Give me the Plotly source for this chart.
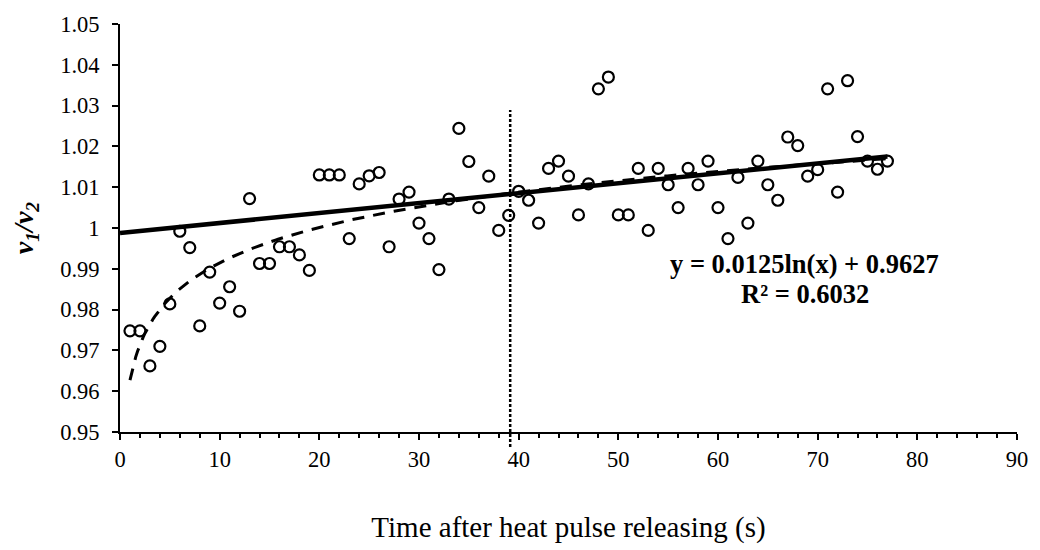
import numpy as np
import plotly.graph_objects as go

# ---------------- data ----------------
TIME_S = list(range(1, 78))
V_RATIO = [
    0.9748, 0.9748, 0.9662, 0.9710, 0.9814, 0.9992, 0.9952, 0.9760, 0.9892, 0.9816,  # 1-10
    0.9856, 0.9796, 1.0072, 0.9913, 0.9913, 0.9954, 0.9954, 0.9934, 0.9896, 1.0130,  # 11-20
    1.0130, 1.0130, 0.9974, 1.0108, 1.0128, 1.0136, 0.9954, 1.0071, 1.0088, 1.0012,  # 21-30
    0.9974, 0.9898, 1.0071, 1.0244, 1.0163, 1.0050, 1.0127, 0.9994, 1.0031, 1.0090,  # 31-40
    1.0068, 1.0012, 1.0146, 1.0164, 1.0127, 1.0032, 1.0108, 1.0341, 1.0370, 1.0032,  # 41-50
    1.0032, 1.0146, 0.9994, 1.0146, 1.0106, 1.0050, 1.0146, 1.0106, 1.0164, 1.0050,  # 51-60
    0.9974, 1.0124, 1.0012, 1.0164, 1.0106, 1.0068, 1.0223, 1.0202, 1.0127, 1.0143,  # 61-70
    1.0341, 1.0088, 1.0361, 1.0224, 1.0164, 1.0144, 1.0164,                          # 71-77
]

# logarithmic trend (as printed on the chart)
LOG_A = 0.0125
LOG_B = 0.9627
LOG_X_RANGE = [1, 77]

# linear trend
LIN_INTERCEPT = 0.9988
LIN_SLOPE = 0.000243
LIN_X_RANGE = [0, 77]

# vertical dotted divider
DIVIDER_X = 39.15

EQ_TEXT = "<b>y = 0.0125ln(x) + 0.9627</b>"
R2_TEXT = "<b>R² = 0.6032</b>"

X_TICKS = [0, 10, 20, 30, 40, 50, 60, 70, 80, 90]
Y_TICKS = [0.95, 0.96, 0.97, 0.98, 0.99, 1.00, 1.01, 1.02, 1.03, 1.04, 1.05]
Y_TICK_LABELS = ["0.95", "0.96", "0.97", "0.98", "0.99", "1", "1.01", "1.02", "1.03", "1.04", "1.05"]

X_TITLE = "Time after heat pulse releasing (s)"
Y_TITLE = "<b><i>v<sub>1</sub>/v<sub>2</sub></i></b>"

FONT = "Liberation Serif, Times New Roman, serif"

# ---------------- derived curves ----------------
log_x = np.linspace(LOG_X_RANGE[0], LOG_X_RANGE[1], 400)
log_y = LOG_A * np.log(log_x) + LOG_B
lin_x = np.array(LIN_X_RANGE, dtype=float)
lin_y = LIN_INTERCEPT + LIN_SLOPE * lin_x

fig = go.Figure()
fig.add_trace(go.Scatter(
    x=TIME_S, y=V_RATIO, mode="markers",
    marker=dict(symbol="circle-open", size=11, color="black",
                line=dict(width=2.2, color="black")),
    showlegend=False, name="v1/v2"))
fig.add_trace(go.Scatter(
    x=log_x, y=log_y, mode="lines",
    line=dict(color="black", width=3, dash="12px,9px"),
    showlegend=False, name="log trend"))
fig.add_trace(go.Scatter(
    x=lin_x, y=lin_y, mode="lines",
    line=dict(color="black", width=4.5),
    showlegend=False, name="linear trend"))

fig.add_shape(type="line", xref="x", yref="paper",
              x0=DIVIDER_X, x1=DIVIDER_X, y0=-0.037, y1=0.789,
              line=dict(color="black", width=2.5, dash="3px,2px"))

fig.add_annotation(x=68.7, y=0.9911, xref="x", yref="y", text=EQ_TEXT,
                   showarrow=False, font=dict(family=FONT, size=26.5, color="black"),
                   xanchor="center", yanchor="middle")
fig.add_annotation(x=68.7, y=0.9838, xref="x", yref="y", text=R2_TEXT,
                   showarrow=False, font=dict(family=FONT, size=26.5, color="black"),
                   xanchor="center", yanchor="middle")

fig.update_layout(
    width=1040, height=550,
    margin=dict(l=120, r=17, t=20, b=115),
    paper_bgcolor="white", plot_bgcolor="white",
    font=dict(family=FONT, color="black"),
    xaxis=dict(
        range=[0, 90], tickvals=X_TICKS, ticks="outside", ticklen=6, tickwidth=1.5,
        tickcolor="black", showline=True, linecolor="black", linewidth=2,
        showgrid=False, zeroline=False,
        tickfont=dict(family=FONT, size=22.5, color="black"),
        minor=dict(dtick=2, tick0=0, ticks="outside", ticklen=4, tickwidth=1.5,
                   tickcolor="black", showgrid=False),
        title=dict(text=X_TITLE, font=dict(family=FONT, size=29, color="black"), standoff=46),
    ),
    yaxis=dict(
        range=[0.95, 1.05], tickvals=Y_TICKS, ticktext=Y_TICK_LABELS,
        ticks="outside", ticklen=6, tickwidth=1.5, tickcolor="black",
        showline=True, linecolor="black", linewidth=2,
        showgrid=False, zeroline=False, ticklabelstandoff=8,
        tickfont=dict(family=FONT, size=22.5, color="black"),
        title=dict(text=Y_TITLE, font=dict(family=FONT, size=28, color="black"), standoff=18),
    ),
)

fig.write_html("out.html",
               config={"displayModeBar": False},
               post_script="document.body.style.margin='0';document.body.style.overflow='hidden';")
